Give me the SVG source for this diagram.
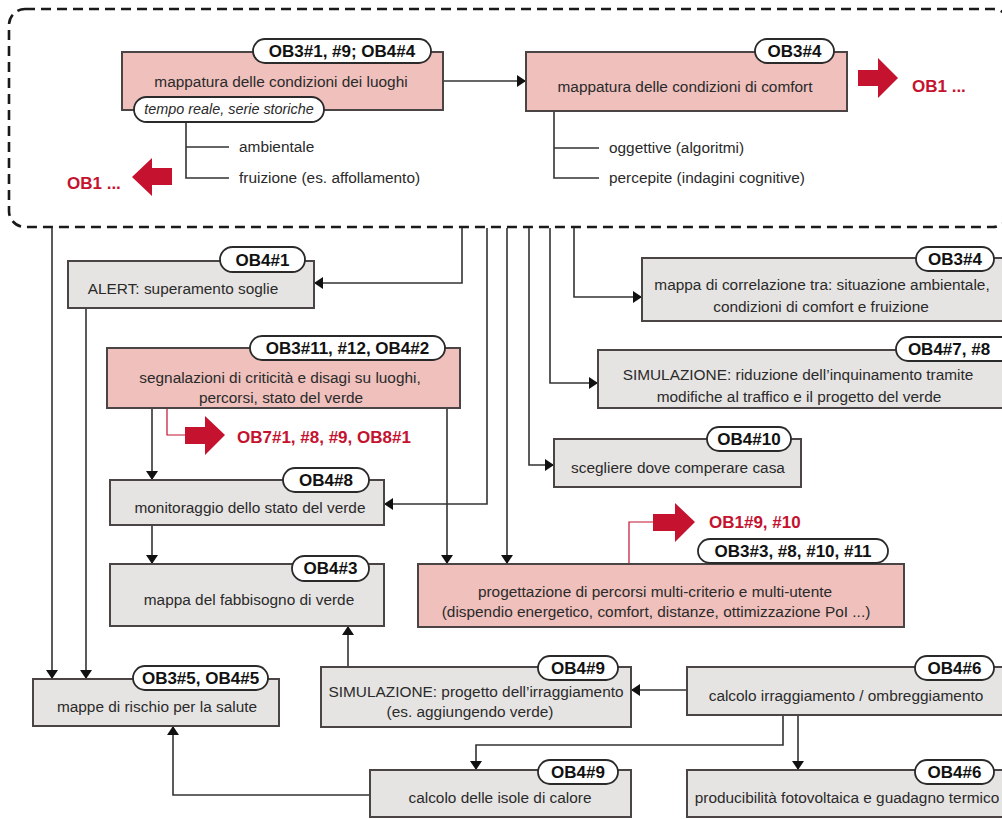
<svg xmlns="http://www.w3.org/2000/svg" width="1002" height="819" viewBox="0 0 1002 819">
<style>
.bg{fill:#ffffff}
.pink{fill:#efc0bc;stroke:#4a4444;stroke-width:2}
.gray{fill:#e6e4e2;stroke:#4a4444;stroke-width:2}
.pill{fill:#ffffff;stroke:#2a2a2a;stroke-width:1.8}
.t{font-family:"Liberation Sans",Arial,sans-serif;font-size:15.4px;fill:#2a2a2a;text-anchor:middle}
.tl{font-family:"Liberation Sans",Arial,sans-serif;font-size:15.4px;fill:#2a2a2a}
.ti{font-family:"Liberation Sans",Arial,sans-serif;font-size:14.4px;font-style:italic;fill:#2a2a2a;text-anchor:middle}
.p{font-family:"Liberation Sans",Arial,sans-serif;font-size:17px;font-weight:bold;fill:#111;text-anchor:middle}
.r{font-family:"Liberation Sans",Arial,sans-serif;font-size:17px;font-weight:bold;fill:#c4122f}
.c{fill:none;stroke:#333;stroke-width:1.6}
.rc{fill:none;stroke:#c4122f;stroke-width:1.2}
.ra{fill:#c4122f}
.dash{fill:none;stroke:#1a1a1a;stroke-width:2.6;stroke-dasharray:10 6}
</style>
<defs>
<marker id="ah" markerUnits="userSpaceOnUse" markerWidth="12" markerHeight="12" refX="9" refY="6" orient="auto">
<path d="M0,0 L9,6 L0,12 z" fill="#111"/>
</marker>
</defs>
<rect class="bg" x="0" y="0" width="1002" height="819"/>
<rect id="container" class="dash" x="9" y="9" width="1000" height="218" rx="16"/>

<g id="connectors">
<path class="c" d="M443,81 L526,81" marker-end="url(#ah)"/>
<path class="c" d="M186,122 L186,178 L229,178 M186,147 L229,147"/>
<path class="c" d="M554,111 L554,178 L599,178 M554,148 L599,148"/>
<path class="c" d="M52,228 L52,679" marker-end="url(#ah)"/>
<path class="c" d="M86,308 L86,679" marker-end="url(#ah)"/>
<path class="c" d="M462,228 L462,283 L314,283" marker-end="url(#ah)"/>
<path class="c" d="M487,228 L487,504 L384,504" marker-end="url(#ah)"/>
<path class="c" d="M507,228 L507,564" marker-end="url(#ah)"/>
<path class="c" d="M529,228 L529,465 L554,465" marker-end="url(#ah)"/>
<path class="c" d="M550,228 L550,383 L598,383" marker-end="url(#ah)"/>
<path class="c" d="M574,228 L574,297 L642,297" marker-end="url(#ah)"/>
<path class="c" d="M152,408 L152,480" marker-end="url(#ah)"/>
<path class="c" d="M447,408 L447,564" marker-end="url(#ah)"/>
<path class="c" d="M152,525 L152,564" marker-end="url(#ah)"/>
<path class="c" d="M348,667 L348,626" marker-end="url(#ah)"/>
<path class="c" d="M687,690 L631,690" marker-end="url(#ah)"/>
<path class="c" d="M783,715 L783,745 L476,745 L476,770" marker-end="url(#ah)"/>
<path class="c" d="M798,715 L798,770" marker-end="url(#ah)"/>
<path class="c" d="M370,795 L173,795 L173,726" marker-end="url(#ah)"/>
<path class="rc" d="M167,408 L167,435 L185,435"/>
<path class="rc" d="M629,564 L629,522 L653,522"/>
</g>

<g id="out-left">
<polygon class="ra" points="172,168 152,168 152,158 132,177 152,196 152,185 172,185"/>
<text class="r" x="67" y="189">OB1 ...</text>
</g>
<g id="out-right">
<polygon class="ra" points="858,70 878,70 878,58 898,78 878,98 878,86 858,86"/>
<text class="r" x="912" y="92">OB1 ...</text>
</g>
<g id="out-ob7">
<polygon class="ra" points="185,427 205,427 205,416 225,435 205,455 205,444 185,444"/>
<text class="r" x="237" y="443">OB7#1, #8, #9, OB8#1</text>
</g>
<g id="out-ob1b">
<polygon class="ra" points="653,514 675,514 675,503 695,522 675,542 675,531 653,531"/>
<text class="r" x="709" y="528">OB1#9, #10</text>
</g>

<g id="n-luoghi">
<rect class="pink" x="122" y="52" width="321" height="58"/>
<rect class="pill" x="253" y="39" width="178" height="24" rx="12"/>
<text class="p" x="342" y="57">OB3#1, #9; OB4#4</text>
<text class="t" x="281" y="87">mappatura delle condizioni dei luoghi</text>
<rect class="pill" x="134" y="97" width="190" height="25" rx="12.5"/>
<text class="ti" x="229" y="114">tempo reale, serie storiche</text>
<text class="tl" x="239" y="152">ambientale</text>
<text class="tl" x="239" y="183">fruizione (es. affollamento)</text>
</g>

<g id="n-comfort">
<rect class="pink" x="526" y="52" width="321" height="59"/>
<rect class="pill" x="755" y="39" width="79" height="24" rx="12"/>
<text class="p" x="794.5" y="57">OB3#4</text>
<text class="t" x="685" y="92">mappatura delle condizioni di comfort</text>
<text class="tl" x="609" y="153">oggettive (algoritmi)</text>
<text class="tl" x="609" y="183">percepite (indagini cognitive)</text>
</g>

<g id="n-alert">
<rect class="gray" x="68" y="261" width="246" height="47"/>
<rect class="pill" x="220" y="247" width="85" height="25" rx="12.5"/>
<text class="p" x="262.5" y="266">OB4#1</text>
<text class="t" x="183" y="294">ALERT: superamento soglie</text>
</g>

<g id="n-correlazione">
<rect class="gray" x="642" y="258" width="370" height="63"/>
<rect class="pill" x="916" y="247" width="78" height="24" rx="12"/>
<text class="p" x="955" y="265">OB3#4</text>
<text class="t" x="822" y="290">mappa di correlazione tra: situazione ambientale,</text>
<text class="t" x="821" y="312">condizioni di comfort e fruizione</text>
</g>

<g id="n-segnalazioni">
<rect class="pink" x="107" y="348" width="353" height="60"/>
<rect class="pill" x="250" y="336" width="195" height="24" rx="12"/>
<text class="p" x="347.5" y="354">OB3#11, #12, OB4#2</text>
<text class="t" x="280" y="383">segnalazioni di criticità e disagi su luoghi,</text>
<text class="t" x="281" y="403">percorsi, stato del verde</text>
</g>

<g id="n-simulazione-inq">
<rect class="gray" x="598" y="350" width="414" height="58"/>
<rect class="pill" x="896" y="337" width="120" height="24" rx="12"/>
<text class="p" x="949" y="355">OB4#7, #8</text>
<text class="t" x="798" y="380">SIMULAZIONE: riduzione dell’inquinamento tramite</text>
<text class="t" x="799" y="402">modifiche al traffico e il progetto del verde</text>
</g>

<g id="n-casa">
<rect class="gray" x="554" y="439" width="247" height="48"/>
<rect class="pill" x="707" y="427" width="84" height="24" rx="12"/>
<text class="p" x="749" y="445">OB4#10</text>
<text class="t" x="678" y="473">scegliere dove comperare casa</text>
</g>

<g id="n-monitoraggio">
<rect class="gray" x="110" y="480" width="274" height="45"/>
<rect class="pill" x="283" y="468" width="86" height="24" rx="12"/>
<text class="p" x="326" y="486">OB4#8</text>
<text class="t" x="250" y="513">monitoraggio dello stato del verde</text>
</g>

<g id="n-fabbisogno">
<rect class="gray" x="110" y="564" width="274" height="62"/>
<rect class="pill" x="292" y="556" width="77" height="25" rx="12.5"/>
<text class="p" x="330.5" y="574">OB4#3</text>
<text class="t" x="249" y="605">mappa del fabbisogno di verde</text>
</g>

<g id="n-progettazione">
<rect class="pink" x="418" y="564" width="486" height="63"/>
<rect class="pill" x="698" y="539" width="190" height="24" rx="12"/>
<text class="p" x="793" y="557">OB3#3, #8, #10, #11</text>
<text class="t" x="655" y="597">progettazione di percorsi multi-criterio e multi-utente</text>
<text class="t" x="656" y="617">(dispendio energetico, comfort, distanze, ottimizzazione PoI ...)</text>
</g>

<g id="n-rischio">
<rect class="gray" x="33" y="679" width="246" height="47"/>
<rect class="pill" x="133" y="666" width="135" height="24" rx="12"/>
<text class="p" x="200.5" y="684">OB3#5, OB4#5</text>
<text class="t" x="157" y="712">mappe di rischio per la salute</text>
</g>

<g id="n-simulazione-irr">
<rect class="gray" x="321" y="667" width="310" height="60"/>
<rect class="pill" x="538" y="656" width="80" height="24" rx="12"/>
<text class="p" x="578" y="674">OB4#9</text>
<text class="t" x="476" y="697">SIMULAZIONE: progetto dell’irraggiamento</text>
<text class="t" x="470" y="717">(es. aggiungendo verde)</text>
</g>

<g id="n-irraggiamento">
<rect class="gray" x="687" y="667" width="325" height="48"/>
<rect class="pill" x="915" y="656" width="79" height="24" rx="12"/>
<text class="p" x="954.5" y="674">OB4#6</text>
<text class="t" x="846" y="701">calcolo irraggiamento / ombreggiamento</text>
</g>

<g id="n-isole">
<rect class="gray" x="370" y="770" width="261" height="47"/>
<rect class="pill" x="538" y="760" width="80" height="24" rx="12"/>
<text class="p" x="578" y="778">OB4#9</text>
<text class="t" x="500" y="803">calcolo delle isole di calore</text>
</g>

<g id="n-producibilita">
<rect class="gray" x="687" y="770" width="325" height="47"/>
<rect class="pill" x="915" y="760" width="79" height="24" rx="12"/>
<text class="p" x="954.5" y="778">OB4#6</text>
<text class="t" x="847" y="803">producibilità fotovoltaica e guadagno termico</text>
</g>
</svg>
